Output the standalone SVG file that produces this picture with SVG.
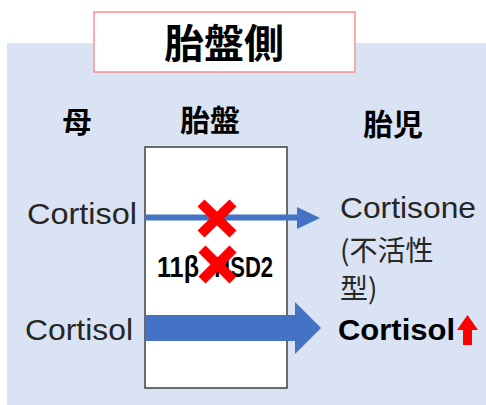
<svg xmlns="http://www.w3.org/2000/svg" width="486" height="405" viewBox="0 0 486 405">
<style>
.cjk{font-family:"Noto Sans CJK JP","Noto Sans",sans-serif;fill:#000}
.lat{font-family:"Liberation Sans","Noto Sans CJK JP",sans-serif;fill:#262626}
.arrow{fill:#4472c4}
.x{stroke:#ff0000;stroke-width:10;stroke-linecap:butt}
</style>
<rect x="7" y="43" width="479" height="362" fill="#dae3f3"/>
<g id="title">
<rect x="94" y="12" width="261" height="60" fill="#ffffff" stroke="#ff9090" stroke-width="1.5"/>
<text class="cjk" x="224" y="58" font-size="40" font-weight="bold" text-anchor="middle">胎盤側</text>
</g>
<g id="header-mother"><text class="cjk" x="77" y="133" font-size="29" font-weight="bold" text-anchor="middle">母</text></g>
<g id="header-placenta"><text class="cjk" x="210" y="131" font-size="30" font-weight="bold" text-anchor="middle">胎盤</text></g>
<g id="header-fetus"><text class="cjk" x="393" y="135" font-size="30" font-weight="bold" text-anchor="middle">胎児</text></g>
<g id="placenta">
<rect x="145" y="147" width="142" height="241" fill="#ffffff" stroke="#404040" stroke-width="1.5"/>
<text class="lat" y="277" font-size="29" font-weight="bold" style="fill:#000"><tspan x="157" textLength="42" lengthAdjust="spacingAndGlyphs">11β</tspan><tspan x="207" textLength="66" lengthAdjust="spacingAndGlyphs">-HSD2</tspan></text>
</g>
<g id="mother-cortisol-1"><text class="lat" x="27" y="224" font-size="30" textLength="110" lengthAdjust="spacingAndGlyphs">Cortisol</text></g>
<g id="mother-cortisol-2"><text class="lat" x="25" y="340" font-size="30" textLength="108" lengthAdjust="spacingAndGlyphs">Cortisol</text></g>
<g id="fetus-cortisone">
<text class="lat" x="340" y="218" font-size="29" textLength="136" lengthAdjust="spacingAndGlyphs">Cortisone</text>
<text class="cjk" x="340" y="261" font-size="28" style="fill:#262626">(不活性</text>
<text class="cjk" x="340" y="299" font-size="28" style="fill:#262626">型)</text>
</g>
<g id="fetus-cortisol">
<text class="lat" x="338" y="340" font-size="30" font-weight="bold" textLength="117" lengthAdjust="spacingAndGlyphs" style="fill:#000">Cortisol</text>
<polygon points="467.5,315 478,330 472,330 472,345 463,345 463,330 457,330" fill="#ff0000"/>
</g>
<g id="connectors">
<rect class="arrow" x="145" y="214.5" width="153" height="6"/>
<polygon class="arrow" points="297,207 320,218 297,229"/>
<rect class="arrow" x="145" y="315" width="151" height="26"/>
<polygon class="arrow" points="295,302 321,328 295,354"/>
</g>
<g id="blocks">
<line class="x" x1="201" y1="203" x2="233" y2="234"/>
<line class="x" x1="233" y1="203" x2="201" y2="234"/>
<line class="x" x1="202" y1="249" x2="233" y2="280"/>
<line class="x" x1="233" y1="249" x2="202" y2="280"/>
</g>
</svg>
